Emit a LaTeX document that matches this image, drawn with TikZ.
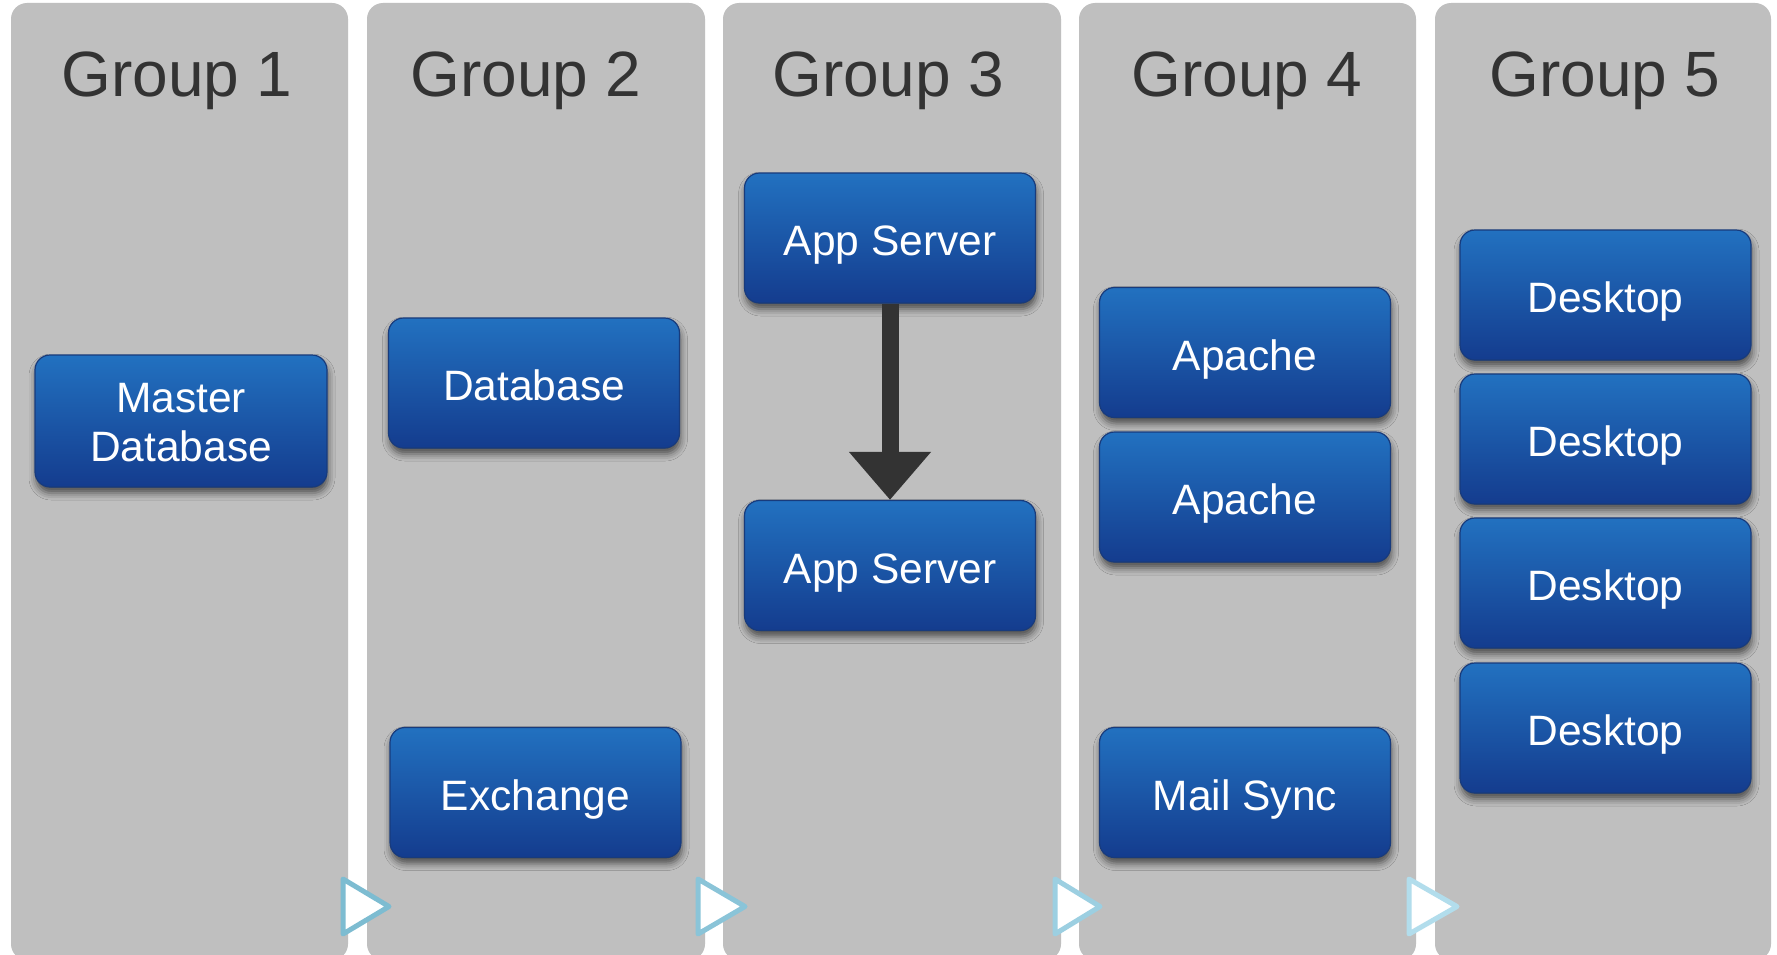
\documentclass[tikz,border=0pt]{standalone}
\usepackage{fontspec}
\setmainfont{Liberation Sans}
\usetikzlibrary{arrows.meta,shadows.blur}

\definecolor{lanegray}{HTML}{BFBFBF}
\definecolor{titlegray}{HTML}{333333}
\definecolor{boxtop}{HTML}{2271C0}
\definecolor{boxbottom}{HTML}{143C8E}
\definecolor{boxedge}{HTML}{183B7C}
\definecolor{arrowdark}{HTML}{333333}
\definecolor{chevA}{HTML}{7DBCD1}
\definecolor{chevB}{HTML}{8AC4D8}
\definecolor{chevC}{HTML}{9CCFE1}
\definecolor{chevD}{HTML}{B2DDEC}

\tikzset{
  lane/.style={fill=lanegray, draw=none, rounded corners=16pt},
  lanetitle/.style={anchor=base, text=titlegray, font=\fontsize{64}{72}\selectfont, inner sep=0pt},
  srvbase/.style={rectangle, rounded corners=15pt, draw=boxedge, line width=1.2pt,
    top color=boxtop, bottom color=boxbottom, text=white,
    minimum width=291pt, minimum height=130pt, inner sep=0pt,
    font=\fontsize{42.5}{49.5}\selectfont,
    blur shadow={shadow xshift=1pt, shadow yshift=-6pt, shadow blur radius=7pt, shadow opacity=60}},
  % single-line boxes: fixed height/depth keep every label on the same level
  server/.style={srvbase, text height=45.6pt, text depth=10pt},
  flow/.style={draw=arrowdark, line width=17pt, -{Triangle[width=79pt,length=48pt]}},
  chevron/.style={fill=white, line width=5pt, line join=round}
}

\begin{document}
\begin{tikzpicture}[x=1pt, y=-1pt]
  \useasboundingbox (0,0) rectangle (1777,955);
  \fill[white] (0,0) rectangle (1777,955);

  % swim lanes
  \begin{scope}
    \clip (0,0) rectangle (1777,955);
    \path[lane] (11,3) rectangle (348,960);
    \path[lane] (367,3) rectangle (705,960);
    \path[lane] (723,3) rectangle (1061,960);
    \path[lane] (1079,3) rectangle (1416,960);
    \path[lane] (1435,3) rectangle (1771,960);
  \end{scope}

  % lane titles
  \node[lanetitle] (t1) at (177,97) {Group 1};
  \node[lanetitle] (t2) at (526,97) {Group 2};
  \node[lanetitle] (t3) at (888.5,97) {Group 3};
  \node[lanetitle] (t4) at (1247,97) {Group 4};
  \node[lanetitle] (t5) at (1605,97) {Group 5};

  % servers
  \node[srvbase, align=center, minimum width=292pt, minimum height=132pt] (md) at (181,421) {\rule{0pt}{32.5pt}Master\\Database};
  \node[server] (db) at (534,383) {Database};
  \node[server] (ex) at (535.5,792.5) {Exchange};
  \node[server] (as1) at (890,238) {App Server};
  \node[server] (as2) at (890,565.5) {App Server};
  \node[server] (ap1) at (1245,352.5) {Apache};
  \node[server] (ap2) at (1245,497) {Apache};
  \node[server] (ms) at (1245,792.5) {Mail Sync};
  \node[server] (dk1) at (1605.5,295) {Desktop};
  \node[server] (dk2) at (1605.5,439) {Desktop};
  \node[server] (dk3) at (1605.5,583) {Desktop};
  \node[server] (dk4) at (1605.5,728) {Desktop};

  % dependency
  \draw[flow] (as1.south) -- (as2.north);

  % lane chevrons
  \draw[chevron, draw=chevA] (343,879) -- (389,906.5) -- (343,934) -- cycle;
  \draw[chevron, draw=chevB] (698,879) -- (745,906.5) -- (698,934) -- cycle;
  \draw[chevron, draw=chevC] (1055,879) -- (1100,906.5) -- (1055,934) -- cycle;
  \draw[chevron, draw=chevD] (1409,879) -- (1457,906.5) -- (1409,934) -- cycle;
\end{tikzpicture}
\end{document}
